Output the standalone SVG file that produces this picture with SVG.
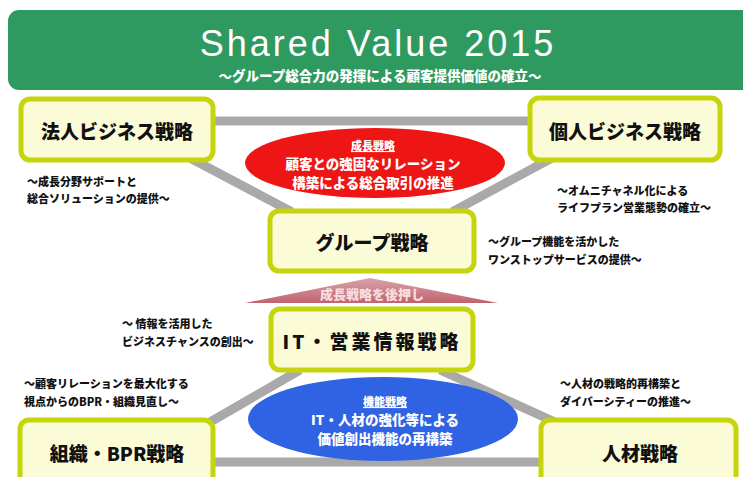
<svg xmlns="http://www.w3.org/2000/svg" width="743" height="477" viewBox="0 0 743 477">
<defs>
<style>
.jp{font-family:"Noto Sans CJK JP","Liberation Sans",sans-serif;font-weight:900}
.box{fill:#fcfbd7;stroke:#c6d40c;stroke-width:5}
.ttl{font-size:19px;fill:#111;text-anchor:middle;dominant-baseline:central}
.ann{font-size:11px;fill:#111;dominant-baseline:central}
.conn{stroke:#a9a9a9;stroke-width:9;fill:none}
.ew{fill:#fff;text-anchor:middle;dominant-baseline:central}
</style>
<linearGradient id="tri" x1="0" y1="0" x2="0" y2="1">
<stop offset="0" stop-color="#d9a3aa"/>
<stop offset="1" stop-color="#c0636e"/>
</linearGradient>
</defs>
<rect width="743" height="477" fill="#fff"/>

<g id="banner">
<rect x="8" y="10" width="745" height="80" rx="11" fill="#2f9a60"/>
<text x="378" y="56" font-family="Liberation Sans,Arial,sans-serif" font-size="36" letter-spacing="3" fill="#fff" text-anchor="middle">Shared Value 2015</text>
<text class="jp" x="380" y="75" font-size="13.5" fill="#fff" text-anchor="middle" dominant-baseline="central">～グループ総合力の発揮による顧客提供価値の確立～</text>
</g>

<g id="connectors">
<line class="conn" x1="210" y1="121" x2="532" y2="121"/>
<line class="conn" x1="190" y1="158" x2="292" y2="212"/>
<line class="conn" x1="552" y1="158" x2="452" y2="212"/>
<line class="conn" x1="300" y1="370" x2="205" y2="425"/>
<line class="conn" x1="440" y1="370" x2="555" y2="422"/>
<line class="conn" x1="210" y1="462" x2="545" y2="462"/>
</g>

<g id="growth">
<ellipse cx="375" cy="163" rx="130" ry="35" fill="#ee1515"/>
<text class="jp ew" x="373" y="145" font-size="11" text-decoration="underline">成長戦略</text>
<text class="jp ew" x="373" y="163" font-size="13.5">顧客との強固なリレーション</text>
<text class="jp ew" x="373" y="182" font-size="13.5">構築による総合取引の推進</text>
</g>

<g id="function">
<ellipse cx="383" cy="419" rx="135" ry="42" fill="#2f63e3"/>
<text class="jp ew" x="385" y="401" font-size="11" text-decoration="underline">機能戦略</text>
<text class="jp ew" x="385" y="419" font-size="13.5">IT・人材の強化等による</text>
<text class="jp ew" x="385" y="438" font-size="13.5">価値創出機能の再構築</text>
</g>

<g id="push">
<polygon points="370,278 498,303 245,303" fill="url(#tri)"/>
<text class="jp" x="372" y="293" font-size="13" fill="#f7dde0" text-anchor="middle" dominant-baseline="central">成長戦略を後押し</text>
</g>

<g id="hojin">
<rect class="box" x="21" y="99" width="192" height="61" rx="9"/>
<text class="jp ttl" x="117" y="130">法人ビジネス戦略</text>
</g>
<g id="kojin">
<rect class="box" x="530" y="98" width="190" height="62" rx="9"/>
<text class="jp ttl" x="625" y="130">個人ビジネス戦略</text>
</g>
<g id="group">
<rect class="box" x="270" y="211" width="204" height="60" rx="9"/>
<text class="jp ttl" x="372" y="241">グループ戦略</text>
</g>
<g id="it">
<rect class="box" x="271" y="309" width="202" height="61" rx="9"/>
<text class="jp ttl" x="372" y="340" letter-spacing="3">IT・営業情報戦略</text>
</g>
<g id="soshiki">
<rect class="box" x="20" y="420" width="193" height="70" rx="9"/>
<text class="jp ttl" x="117" y="452">組織・BPR戦略</text>
</g>
<g id="jinzai">
<rect class="box" x="541" y="420" width="195" height="70" rx="9"/>
<text class="jp ttl" x="640" y="452">人材戦略</text>
</g>

<g id="annotations">
<text class="jp ann" x="27" y="181">～成長分野サポートと</text>
<text class="jp ann" x="27" y="198">総合ソリューションの提供～</text>
<text class="jp ann" x="557" y="190">～オムニチャネル化による</text>
<text class="jp ann" x="557" y="207">ライフプラン営業態勢の確立～</text>
<text class="jp ann" x="488" y="241">～グループ機能を活かした</text>
<text class="jp ann" x="488" y="259">ワンストップサービスの提供～</text>
<text class="jp ann" x="122" y="323">～ 情報を活用した</text>
<text class="jp ann" x="122" y="341">ビジネスチャンスの創出～</text>
<text class="jp ann" x="24" y="383">～顧客リレーションを最大化する</text>
<text class="jp ann" x="24" y="401">視点からのBPR・組織見直し～</text>
<text class="jp ann" x="560" y="383">～人材の戦略的再構築と</text>
<text class="jp ann" x="560" y="401">ダイバーシティーの推進～</text>
</g>
</svg>
